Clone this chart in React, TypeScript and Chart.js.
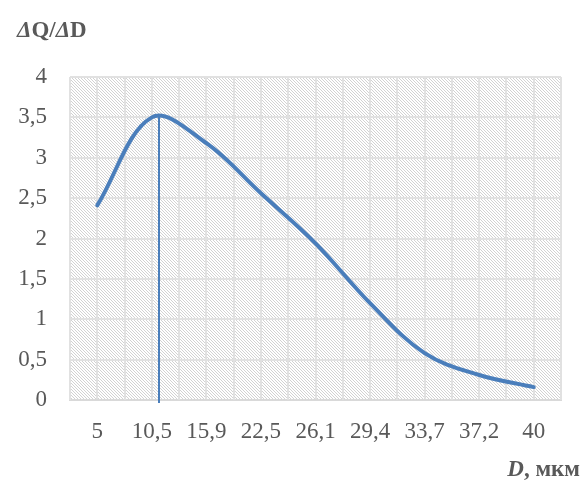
import React, { useEffect, useRef } from 'react';
import { Chart, registerables } from 'chart.js';

Chart.register(...registerables);

const categories: string[] = ['5', '10,5', '15,9', '22,5', '26,1', '29,4', '33,7', '37,2', '40'];
const values: number[] = [2.41, 3.5, 3.18, 2.56, 1.94, 1.2, 0.58, 0.31, 0.16];
const yMin = 0;
const yMax = 4;
const yStep = 0.5;
const yTitleParts = [
  { text: 'Δ', italic: true },
  { text: 'Q/', italic: false },
  { text: 'Δ', italic: true },
  { text: 'D', italic: false },
];
const xTitleParts = [
  { text: 'D', italic: true },
  { text: ', мкм', italic: false },
];

const TEXT_COLOR = '#595959';
const GRID_COLOR = '#e1e1e1';
const HATCH_COLOR = '#d2d2d2';
const LINE_COLOR = '#4a7ebb';
const FONT = '"Liberation Serif", "Times New Roman", serif';

function drawParts(ctx: CanvasRenderingContext2D, parts: { text: string; italic: boolean }[], size: number, x: number, y: number, alignRight: boolean) {
  const fonts = parts.map((p) => `${p.italic ? 'italic ' : ''}bold ${size}px ${FONT}`);
  let total = 0;
  const widths = parts.map((p, i) => {
    ctx.font = fonts[i];
    const w = ctx.measureText(p.text).width;
    total += w;
    return w;
  });
  let cx = alignRight ? x - total : x;
  ctx.fillStyle = TEXT_COLOR;
  ctx.textBaseline = 'alphabetic';
  ctx.textAlign = 'left';
  parts.forEach((p, i) => {
    ctx.font = fonts[i];
    ctx.fillText(p.text, cx, y);
    cx += widths[i];
  });
}

const decorPlugin = {
  id: 'decor',
  beforeDraw(chart: any) {
    const { ctx, chartArea } = chart;
    const { left, top, right, bottom } = chartArea;
    const h = bottom - top;
    ctx.save();
    ctx.fillStyle = '#ffffff';
    ctx.fillRect(0, 0, chart.width, chart.height);
    ctx.beginPath();
    ctx.rect(left, top, right - left, h);
    ctx.clip();
    ctx.strokeStyle = HATCH_COLOR;
    ctx.lineWidth = 1;
    ctx.beginPath();
    for (let d = -h; d < right - left + 3; d += 3) {
      ctx.moveTo(left + d, top);
      ctx.lineTo(left + d + h, top + h);
    }
    ctx.stroke();
    ctx.restore();
  },
  beforeDatasetsDraw(chart: any) {
    const { ctx, chartArea } = chart;
    const xs = chart.scales.x;
    ctx.save();
    ctx.strokeStyle = GRID_COLOR;
    ctx.lineWidth = 2;
    for (let i = 0; i <= categories.length; i++) {
      const px = Math.round(xs.getPixelForValue(i - 0.5));
      ctx.beginPath();
      ctx.moveTo(px, chartArea.top);
      ctx.lineTo(px, chartArea.bottom);
      ctx.stroke();
    }
    ctx.restore();
  },
  afterDatasetsDraw(chart: any) {
    const { ctx, chartArea } = chart;
    const meta = chart.getDatasetMeta(0);
    const pts = meta.data;
    let best = { x: pts[0].x, y: pts[0].y };
    for (let i = 0; i < pts.length - 1; i++) {
      const a = pts[i];
      const b = pts[i + 1];
      const x0 = a.x, y0 = a.y;
      const x1 = a.cp2x ?? a.x, y1 = a.cp2y ?? a.y;
      const x2 = b.cp1x ?? b.x, y2 = b.cp1y ?? b.y;
      const x3 = b.x, y3 = b.y;
      for (let s = 0; s <= 200; s++) {
        const t = s / 200;
        const mt = 1 - t;
        const bx = mt * mt * mt * x0 + 3 * mt * mt * t * x1 + 3 * mt * t * t * x2 + t * t * t * x3;
        const by = mt * mt * mt * y0 + 3 * mt * mt * t * y1 + 3 * mt * t * t * y2 + t * t * t * y3;
        if (by < best.y) best = { x: bx, y: by };
      }
    }
    ctx.save();
    ctx.strokeStyle = LINE_COLOR;
    ctx.lineWidth = 2;
    const vx = Math.round(best.x);
    ctx.beginPath();
    ctx.moveTo(vx, best.y);
    ctx.lineTo(vx, chartArea.bottom + 3);
    ctx.stroke();
    ctx.restore();

    drawParts(ctx, yTitleParts, 23, 17, 37, false);
    drawParts(ctx, xTitleParts, 23, 580, 476, true);
  },
};

export default function App() {
  const ref = useRef<HTMLCanvasElement | null>(null);
  useEffect(() => {
    if (!ref.current) return;
    const chart = new Chart(ref.current, {
      type: 'line',
      data: {
        labels: categories,
        datasets: [
          {
            data: values,
            borderColor: LINE_COLOR,
            borderWidth: 4,
            pointRadius: 0,
            tension: 0.36,
            fill: false,
            borderCapStyle: 'round',
            borderJoinStyle: 'round',
          },
        ],
      },
      options: {
        animation: false,
        responsive: true,
        maintainAspectRatio: false,
        layout: { padding: { top: 77, right: 23, left: 0, bottom: 0 } },
        plugins: { legend: { display: false }, tooltip: { enabled: false }, title: { display: false } },
        scales: {
          x: {
            type: 'category',
            offset: true,
            grid: { offset: false, color: GRID_COLOR, lineWidth: 2, drawTicks: false },
            border: { display: true, color: '#d9d9d9', width: 2 },
            ticks: {
              color: TEXT_COLOR,
              font: { family: FONT, size: 23 },
              padding: 18,
              maxRotation: 0,
              autoSkip: false,
            },
            afterFit(scale: any) {
              scale.height = 82;
            },
          },
          y: {
            min: yMin,
            max: yMax,
            grid: { color: GRID_COLOR, lineWidth: 2, drawTicks: false },
            border: { display: false },
            ticks: {
              stepSize: yStep,
              color: TEXT_COLOR,
              font: { family: FONT, size: 23 },
              padding: 23,
              callback: (v: any) => String(v).replace('.', ','),
            },
            afterFit(scale: any) {
              scale.width = 70;
            },
          },
        },
      },
      plugins: [decorPlugin],
    });
    return () => chart.destroy();
  }, []);
  return (
    <div style={{ position: 'fixed', left: 0, top: 0, width: 584, height: 482 }}>
      <canvas ref={ref} />
    </div>
  );
}
